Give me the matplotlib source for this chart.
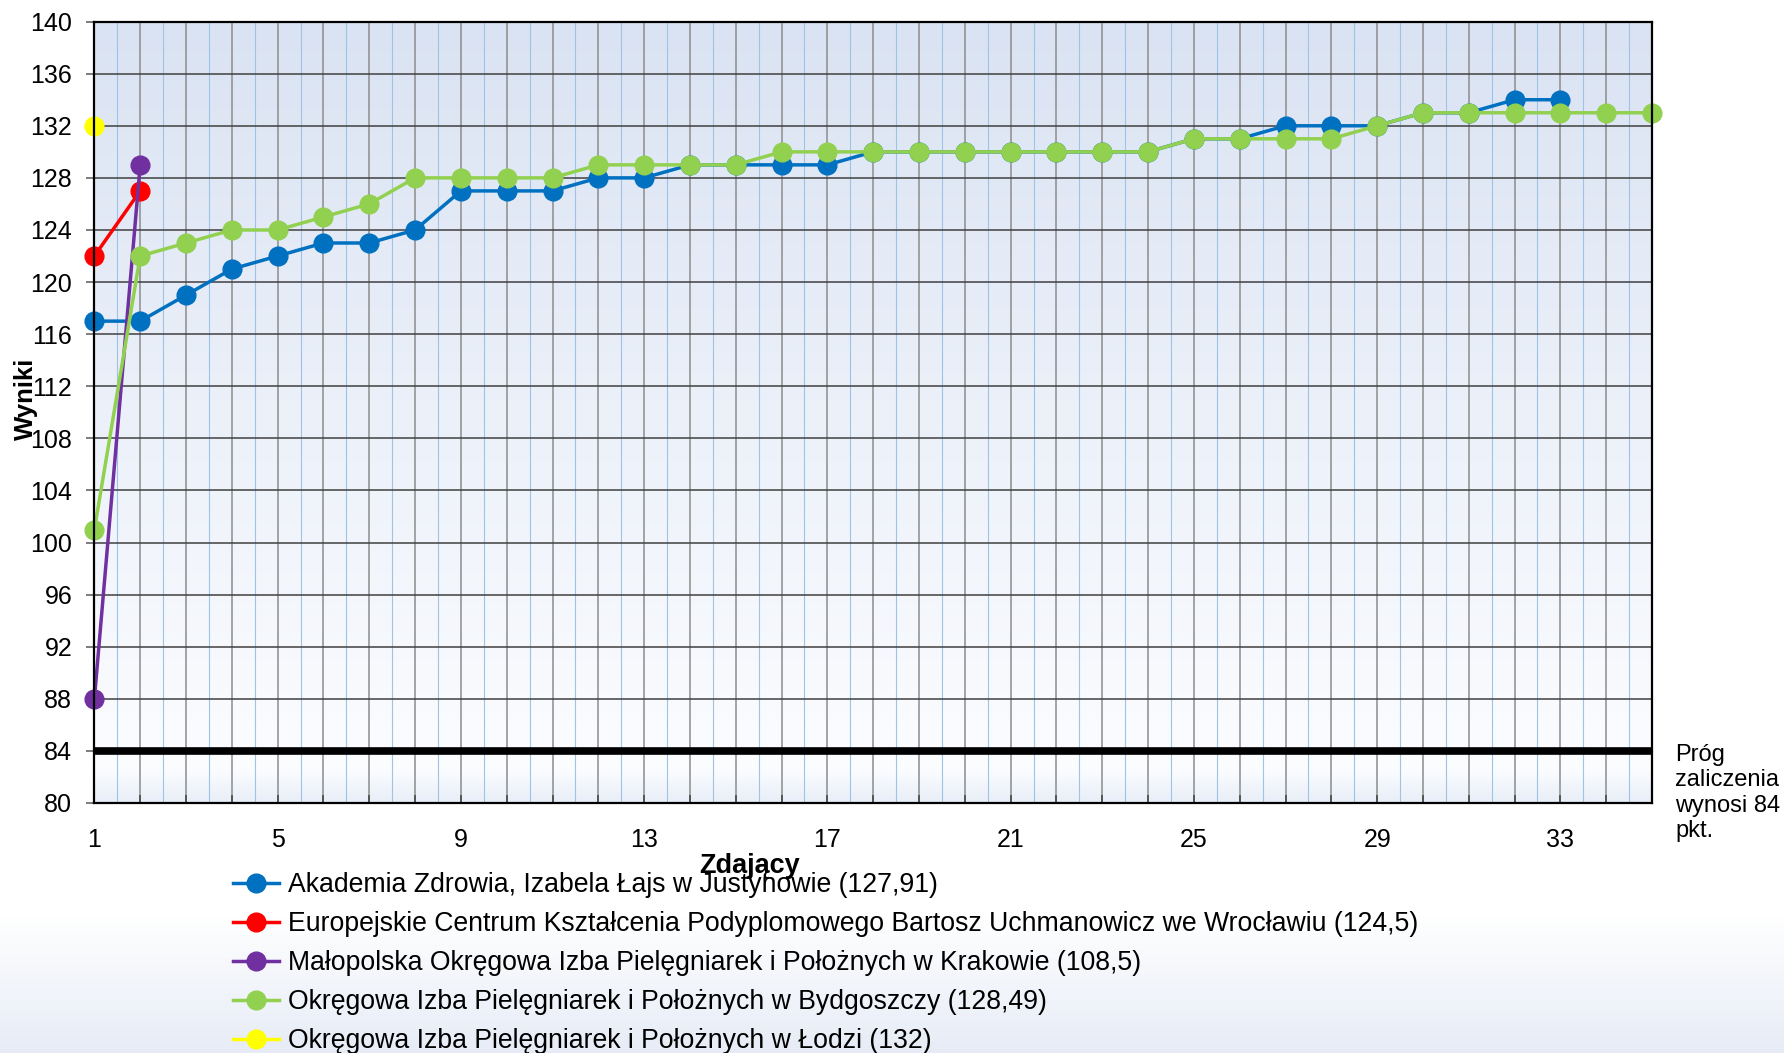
import numpy as np
import matplotlib
matplotlib.use('Agg')
import matplotlib.pyplot as plt

plt.rcParams['font.family'] = ['Liberation Sans', 'DejaVu Sans']

# ---------------- data ----------------
akademia = [117, 117, 119, 121, 122, 123, 123, 124, 127, 127, 127, 128, 128, 129, 129, 129, 129,
            130, 130, 130, 130, 130, 130, 130, 131, 131, 132, 132, 132, 133, 133, 134, 134]
europejskie = [122, 127]
malopolska = [88, 129]
bydgoszcz = [101, 122, 123, 124, 124, 125, 126, 128, 128, 128, 128, 129, 129, 129, 129,
             130, 130, 130, 130, 130, 130, 130, 130, 130, 131, 131, 131, 131, 132,
             133, 133, 133, 133, 133, 133]
lodz = [132]

series_values = [akademia, europejskie, malopolska, bydgoszcz, lodz]
series_names = [
    "Akademia Zdrowia, Izabela Łajs w Justynowie (127,91)",
    "Europejskie Centrum Kształcenia Podyplomowego Bartosz Uchmanowicz we Wrocławiu (124,5)",
    "Małopolska Okręgowa Izba Pielęgniarek i Położnych w Krakowie (108,5)",
    "Okręgowa Izba Pielęgniarek i Położnych w Bydgoszczy (128,49)",
    "Okręgowa Izba Pielęgniarek i Położnych w Łodzi (132)",
]
series_colors = ["#0070c0", "#ff0000", "#7030a0", "#92d050", "#ffff00"]

threshold = 84
threshold_text = "Próg\nzaliczenia\nwynosi 84\npkt."
x_labels_shown = [1, 5, 9, 13, 17, 21, 25, 29, 33]
y_ticks = list(range(80, 141, 4))
x_max = 35

# ---------------- figure ----------------
W, H = 1784, 1053
fig = plt.figure(figsize=(W / 100, H / 100), dpi=100)

# figure background gradient (white -> light blue-grey at bottom)
bg = fig.add_axes([0, 0, 1, 1], zorder=-10)
bg.axis('off')
yy = np.linspace(0, 1, 300)
t = np.clip((0.13 - yy) / 0.13, 0, 1)[:, None]
c_top = np.array([1.0, 1.0, 1.0])
c_bot = np.array([0.905, 0.925, 0.965])
img = c_top[None, :] * (1 - t) + c_bot[None, :] * t
bg.imshow(img[:, None, :], extent=[0, 1, 0, 1], origin='lower', aspect='auto')
bg.set_xlim(0, 1)
bg.set_ylim(0, 1)

left, right, top, bottom = 94.4, 1652.0, 21.6, 803.0
ax = fig.add_axes([left / W, 1 - bottom / H, (right - left) / W, (bottom - top) / H])
ax.set_facecolor('none')
ax.set_xlim(1, x_max)
ax.set_ylim(80, 140)

# plot-area gradient
gy = np.linspace(80, 140, 400)
stops = [80, 82.5, 86, 140]
cols = np.array([[0.91, 0.935, 0.972],
                 [0.985, 0.99, 1.0],
                 [0.98, 0.985, 0.997],
                 [0.855, 0.890, 0.953]])
gimg = np.stack([np.interp(gy, stops, cols[:, k]) for k in range(3)], axis=1)
ax.imshow(gimg[:, None, :], extent=[1, x_max, 80, 140], origin='lower',
          aspect='auto', zorder=0, interpolation='bilinear')

# grid lines
xs_all = np.arange(1, x_max + 1)
for xv in xs_all:
    ax.axvline(xv, color='#8c8c8c', lw=1.1, zorder=1)
for xv in xs_all[:-1] + 0.5:
    ax.axvline(xv, color='#9dc3e6', lw=0.8, zorder=1)
for yv in y_ticks:
    ax.axhline(yv, color='#404040', lw=1.1, zorder=1.5)

# threshold
ax.axhline(threshold, color='black', lw=5.5, zorder=2)

# series
handles = []
for i, (vals, name, col) in enumerate(zip(series_values, series_names, series_colors)):
    xs = np.arange(1, len(vals) + 1)
    ln, = ax.plot(xs, vals, color=col, lw=2.5, marker='o', ms=13.5, mfc=col, mec=col,
                  zorder=3 + i, clip_on=False, label=name)
    handles.append(ln)

# ticks
ax.set_xticks(xs_all)
ax.set_xticklabels([str(v) if v in x_labels_shown else '' for v in xs_all])
ax.set_yticks(y_ticks)
ax.tick_params(axis='x', direction='in', length=6, width=1.1, color='#404040',
               labelsize=18, pad=18)
ax.tick_params(axis='y', direction='out', length=6, width=1.1, color='#595959',
               labelsize=18, pad=10)
for s in ax.spines.values():
    s.set_color('black')
    s.set_linewidth(1.6)
    s.set_zorder(10)

# axis titles
fig.text(26 / W, 1 - 398.8 / H, 'Wyniki', rotation=90, ha='center', va='center',
         fontsize=18.5, fontweight='bold')
fig.text(750 / W, 1 - 866 / H, 'Zdający', ha='center', va='center',
         fontsize=19.5, fontweight='bold')

# threshold annotation
fig.text(1675 / W, 1 - 744 / H, threshold_text, ha='left', va='top', fontsize=17)

# legend
fs = 19.2
fig.legend(handles=handles, labels=series_names, loc='upper left',
           bbox_to_anchor=(233 / W, 1 - 872 / H), frameon=False, fontsize=fs,
           handlelength=32.8 / fs, handletextpad=6.8 / fs, labelspacing=0.49,
           borderpad=0, borderaxespad=0, markerscale=1.0)

fig.savefig('out.png', dpi=100)
